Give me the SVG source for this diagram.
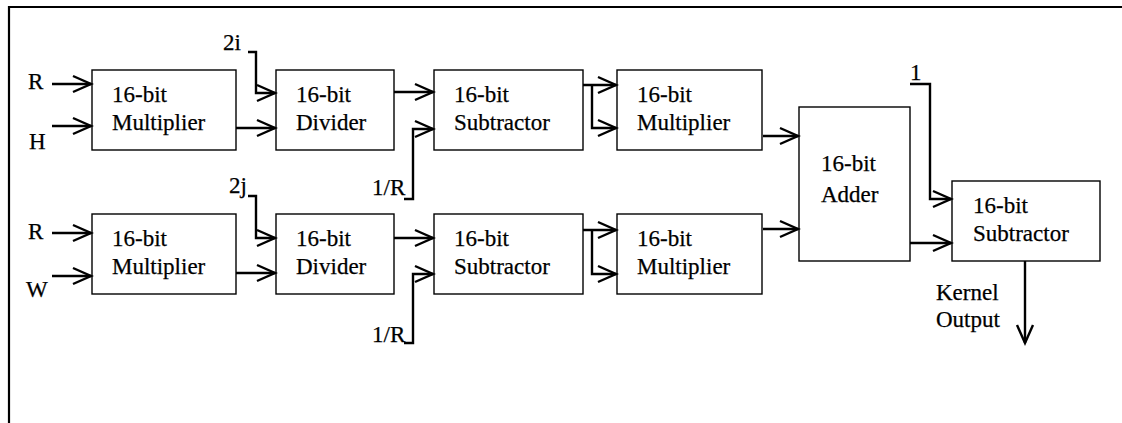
<svg xmlns="http://www.w3.org/2000/svg" width="1122" height="423" viewBox="0 0 1122 423">
  <style>
    .box { fill: #ffffff; stroke: #000000; stroke-width: 1.4; }
    .lbl { font-family: 'Liberation Serif', serif; font-size: 23px; fill: #000000; stroke: #000000; stroke-width: 0.25; }
    .wire { fill: none; stroke: #000000; stroke-width: 2.4; stroke-linejoin: miter; }
    .arr { marker-end: url(#vhead); }
  </style>
  <defs>
    <marker id="vhead" markerUnits="userSpaceOnUse" markerWidth="22" markerHeight="20" refX="18" refY="9" orient="auto" overflow="visible">
      <path d="M0,1 L18,9 L0,17" fill="none" stroke="#000000" stroke-width="2.4"/>
    </marker>
  </defs>
  <rect width="1122" height="423" fill="#ffffff"/>

  <!-- outer frame -->
  <path d="M9,423 V7 H1122" fill="none" stroke="#000000" stroke-width="2.2"/>

  <!-- input and output labels -->
  <g id="inputs">
    <text class="lbl" x="28" y="89">R</text>
    <text class="lbl" x="29" y="149">H</text>
    <text class="lbl" x="28" y="239">R</text>
    <text class="lbl" x="26" y="297">W</text>
    <text class="lbl" x="223" y="50">2i</text>
    <text class="lbl" x="229" y="193">2j</text>
    <text class="lbl" x="372" y="195">1/R</text>
    <text class="lbl" x="372" y="342">1/R</text>
    <text class="lbl" x="910" y="80">1</text>
    <text class="lbl" x="936" y="300">Kernel</text>
    <text class="lbl" x="936" y="327">Output</text>
  </g>

  <!-- top row -->
  <g id="mul-h">
    <rect class="box" x="92" y="70" width="144" height="80"/>
    <text class="lbl" x="112" y="102">16-bit</text>
    <text class="lbl" x="112" y="130">Multiplier</text>
  </g>
  <g id="div-i">
    <rect class="box" x="276" y="70" width="118" height="80"/>
    <text class="lbl" x="296" y="102">16-bit</text>
    <text class="lbl" x="296" y="130">Divider</text>
  </g>
  <g id="sub-i">
    <rect class="box" x="434" y="70" width="149" height="80"/>
    <text class="lbl" x="454" y="102">16-bit</text>
    <text class="lbl" x="454" y="130">Subtractor</text>
  </g>
  <g id="sq-i">
    <rect class="box" x="617" y="70" width="145" height="80"/>
    <text class="lbl" x="637" y="102">16-bit</text>
    <text class="lbl" x="637" y="130">Multiplier</text>
  </g>

  <!-- bottom row -->
  <g id="mul-w">
    <rect class="box" x="92" y="214" width="144" height="80"/>
    <text class="lbl" x="112" y="246">16-bit</text>
    <text class="lbl" x="112" y="274">Multiplier</text>
  </g>
  <g id="div-j">
    <rect class="box" x="276" y="214" width="118" height="80"/>
    <text class="lbl" x="296" y="246">16-bit</text>
    <text class="lbl" x="296" y="274">Divider</text>
  </g>
  <g id="sub-j">
    <rect class="box" x="434" y="214" width="149" height="80"/>
    <text class="lbl" x="454" y="246">16-bit</text>
    <text class="lbl" x="454" y="274">Subtractor</text>
  </g>
  <g id="sq-j">
    <rect class="box" x="617" y="214" width="145" height="80"/>
    <text class="lbl" x="637" y="246">16-bit</text>
    <text class="lbl" x="637" y="274">Multiplier</text>
  </g>

  <!-- sum and final stage -->
  <g id="adder">
    <rect class="box" x="799" y="107" width="111" height="154"/>
    <text class="lbl" x="821" y="171">16-bit</text>
    <text class="lbl" x="821" y="202">Adder</text>
  </g>
  <g id="sub-out">
    <rect class="box" x="952" y="181" width="148" height="80"/>
    <text class="lbl" x="973" y="213">16-bit</text>
    <text class="lbl" x="973" y="241">Subtractor</text>
  </g>

  <!-- connectors -->
  <g id="connectors">
    <path class="wire arr" d="M52,84 H91"/>
    <path class="wire arr" d="M52,126 H91"/>
    <path class="wire arr" d="M248,52 H256 V93 H275"/>
    <path class="wire arr" d="M236,128 H275"/>
    <path class="wire arr" d="M394,92 H433"/>
    <path class="wire arr" d="M404,199 H413 V129 H433"/>
    <path class="wire arr" d="M583,85 H616"/>
    <path class="wire arr" d="M592,85 V128 H616"/>
    <path class="wire arr" d="M763,136 H798"/>

    <path class="wire arr" d="M52,233 H91"/>
    <path class="wire arr" d="M52,276 H91"/>
    <path class="wire arr" d="M248,196 H256 V238 H275"/>
    <path class="wire arr" d="M236,273 H275"/>
    <path class="wire arr" d="M394,238 H433"/>
    <path class="wire arr" d="M404,343 H413 V274 H433"/>
    <path class="wire arr" d="M583,230 H616"/>
    <path class="wire arr" d="M592,230 V274 H616"/>
    <path class="wire arr" d="M763,229 H798"/>

    <path class="wire arr" d="M910,84 H930 V199 H951"/>
    <path class="wire arr" d="M910,243 H951"/>
    <path class="wire arr" d="M1025,261 V343"/>
  </g>
</svg>
